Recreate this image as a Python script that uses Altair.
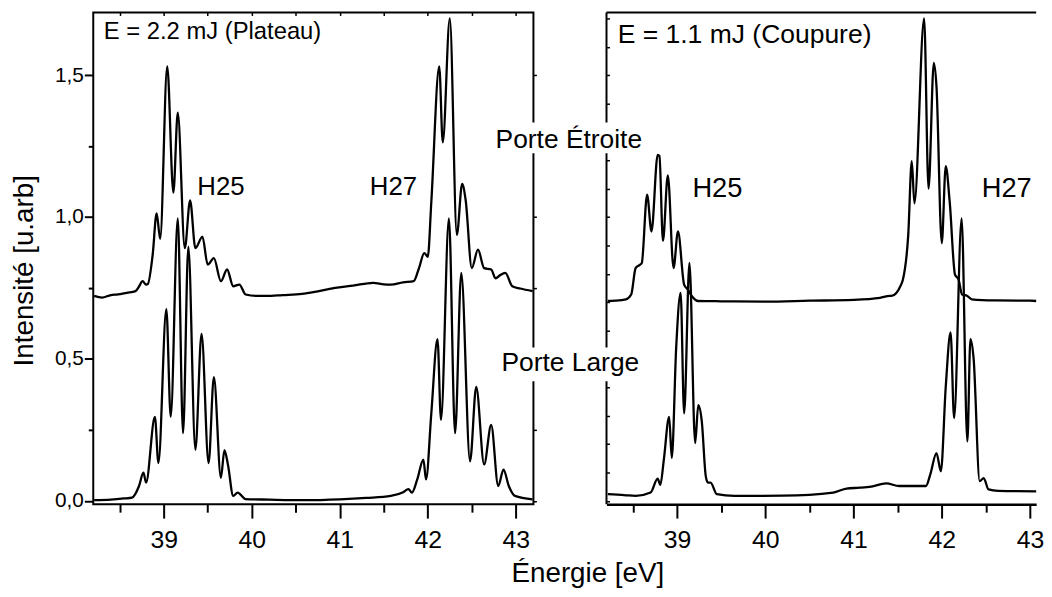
import altair as alt
import pandas as pd

FONT = "Liberation Sans"

# ---------------- data ----------------
# Left panel: E = 2.2 mJ (Plateau)
lu_x = [38.21, 38.30, 38.40, 38.48, 38.58, 38.68, 38.72, 38.76, 38.80, 38.82, 38.875, 38.92, 38.96,
        39.04, 39.11, 39.16, 39.24, 39.30, 39.36, 39.44, 39.50, 39.57, 39.65, 39.72, 39.79, 39.86,
        39.93, 40.05, 40.17, 40.35, 40.57, 40.75, 40.97, 41.15, 41.38, 41.50, 41.58, 41.72, 41.84,
        41.90, 41.96, 42.00, 42.04, 42.13, 42.17, 42.25, 42.33, 42.39, 42.43, 42.50, 42.57, 42.64,
        42.72, 42.77, 42.82, 42.88, 42.96, 43.05, 43.19]
lu_y = [0.722, 0.716, 0.725, 0.727, 0.733, 0.739, 0.755, 0.774, 0.762, 0.764, 0.867, 1.013, 0.923,
        1.531, 1.086, 1.368, 0.890, 1.059, 0.890, 0.931, 0.832, 0.855, 0.774, 0.815, 0.756, 0.762,
        0.727, 0.722, 0.722, 0.725, 0.729, 0.738, 0.751, 0.758, 0.768, 0.763, 0.762, 0.770, 0.774,
        0.820, 0.873, 0.860, 1.053, 1.531, 1.263, 1.700, 0.937, 1.117, 1.060, 0.820, 0.885, 0.820,
        0.815, 0.784, 0.795, 0.803, 0.756, 0.748, 0.739]

ll_x = [38.21, 38.40, 38.55, 38.64, 38.72, 38.77, 38.80, 38.90, 38.94, 39.03, 39.08, 39.16, 39.22,
        39.28, 39.36, 39.43, 39.51, 39.57, 39.65, 39.69, 39.73, 39.79, 39.84, 39.93, 40.20, 40.60,
        41.00, 41.30, 41.58, 41.72, 41.78, 41.82, 41.88, 41.95, 41.98, 42.04, 42.11, 42.15, 42.24,
        42.31, 42.38, 42.48, 42.55, 42.64, 42.72, 42.80, 42.86, 42.92, 42.99, 43.19]
ll_y = [0.002, 0.004, 0.008, 0.011, 0.052, 0.099, 0.064, 0.296, 0.133, 0.675, 0.296, 0.995, 0.238,
        0.896, 0.180, 0.588, 0.133, 0.436, 0.081, 0.178, 0.127, 0.017, 0.029, 0.006, 0.004, 0.002,
        0.005, 0.010, 0.017, 0.030, 0.041, 0.029, 0.075, 0.145, 0.075, 0.308, 0.570, 0.285, 0.995,
        0.238, 0.803, 0.139, 0.401, 0.128, 0.267, 0.052, 0.110, 0.052, 0.017, 0.005]

# Right panel: E = 1.1 mJ (Coupure)
ru_x = [38.215, 38.30, 38.42, 38.48, 38.53, 38.57, 38.60, 38.66, 38.71, 38.78, 38.80, 38.84, 38.895,
        38.96, 39.01, 39.08, 39.12, 39.17, 39.24, 39.50, 40.00, 40.50, 41.00, 41.30, 41.41, 41.43,
        41.54, 41.56, 41.62, 41.66, 41.69, 41.80, 41.85, 41.91, 41.94, 42.00, 42.045, 42.09, 42.15,
        42.19, 42.23, 42.29, 42.34, 42.60, 43.00, 43.07]
ru_y = [0.704, 0.705, 0.710, 0.727, 0.820, 0.830, 0.838, 1.079, 0.949, 1.219, 1.215, 0.916, 1.147,
        0.820, 0.949, 0.762, 0.745, 0.720, 0.704, 0.703, 0.702, 0.705, 0.708, 0.715, 0.722, 0.722,
        0.762, 0.780, 0.937, 1.197, 1.048, 1.700, 1.100, 1.543, 1.461, 0.908, 1.179, 1.053, 0.797,
        0.780, 0.727, 0.722, 0.710, 0.706, 0.705, 0.704]

rl_x = [38.215, 38.40, 38.53, 38.70, 38.78, 38.81, 38.85, 38.91, 38.94, 38.99, 39.04, 39.08, 39.14,
        39.205, 39.24, 39.28, 39.325, 39.35, 39.38, 39.45, 39.65, 40.20, 40.77, 40.92, 41.07, 41.20,
        41.37, 41.52, 41.82, 41.87, 41.94, 41.99, 42.045, 42.10, 42.14, 42.225, 42.29, 42.325, 42.36,
        42.43, 42.475, 42.53, 42.64, 43.07]
rl_y = [0.023, 0.020, 0.017, 0.029, 0.078, 0.056, 0.145, 0.296, 0.151, 0.541, 0.733, 0.308, 0.838,
        0.203, 0.337, 0.280, 0.087, 0.064, 0.064, 0.023, 0.017, 0.018, 0.029, 0.043, 0.046, 0.050,
        0.061, 0.052, 0.052, 0.093, 0.168, 0.104, 0.401, 0.593, 0.291, 0.995, 0.209, 0.570, 0.505,
        0.069, 0.080, 0.040, 0.035, 0.033]

x_ticks = [38.5, 39.0, 39.5, 40.0, 40.5, 41.0, 41.5, 42.0, 42.5, 43.0]
y_ticks_left = [0.0, 0.25, 0.5, 0.75, 1.0, 1.25, 1.5]
y_ticks_right = [0.0, 0.1, 0.2, 0.3, 0.4, 0.5, 0.6, 0.7, 0.8, 0.9, 1.0, 1.1, 1.2, 1.3, 1.4, 1.5, 1.6, 1.7]

X_MIN, X_MAX_L, X_MAX_R = 38.2, 43.2, 43.07
Y_MIN, Y_MAX = -0.0122, 1.7208
PX_PER_EV_R = 89.0


def series(xs, ys, name):
    return pd.DataFrame({"energie": xs, "intensite": ys, "porte": name})


left_df = pd.concat([series(lu_x, lu_y, "Porte Étroite"), series(ll_x, ll_y, "Porte Large")])
right_df = pd.concat([series(ru_x, ru_y, "Porte Étroite"), series(rl_x, rl_y, "Porte Large")])

y_scale = alt.Scale(domain=[Y_MIN, Y_MAX], nice=False, zero=False)
xl_scale = alt.Scale(domain=[X_MIN, X_MAX_L], nice=False, zero=False)
xr_scale = alt.Scale(domain=[X_MIN, X_MAX_R], nice=False, zero=False)

x_tick_size = {"condition": {"test": "datum.value % 1 === 0", "value": 14}, "value": 8}
x_label_expr = "datum.value % 1 === 0 ? format(datum.value, 'd') : ''"
y_major = "abs(datum.value * 2 - round(datum.value * 2)) < 0.001"


def bottom_axis(**kw):
    return alt.Axis(orient="bottom", values=x_ticks, tickSize=x_tick_size, tickWidth=2,
                    tickColor="black", labelExpr=x_label_expr, labelFont=FONT, labelFontSize=25,
                    labelColor="black", labelPadding=10, labelOverlap=False, labelFlush=False,
                    grid=False, **kw)


def text_layer(df, scale, size, align):
    return alt.Chart(df).mark_text(font=FONT, fontSize=size, align=align, baseline="alphabetic",
                                   color="black").encode(
        x=alt.X("energie:Q", scale=scale, axis=None),
        y=alt.Y("intensite:Q", scale=y_scale, axis=None),
        text="txt:N")


LW = 2.3

# ---------------- left panel ----------------
left_lines = alt.Chart(left_df).mark_line(color="black", strokeWidth=LW, interpolate="monotone").encode(
    x=alt.X("energie:Q", scale=xl_scale,
            axis=bottom_axis(domain=False, title="Énergie [eV]", titleFont=FONT, titleFontSize=28,
                             titleFontWeight="normal", titleColor="black", titleX=498.4, titleY=78,
                             titleAlign="center", titleBaseline="alphabetic")),
    y=alt.Y("intensite:Q", scale=y_scale,
            axis=alt.Axis(orient="left", values=y_ticks_left, domain=False, grid=False,
                          tickSize={"condition": {"test": y_major, "value": 9}, "value": 5},
                          tickWidth=2, tickColor="black",
                          labelExpr=f"{y_major} ? replace(format(datum.value, '.1f'), '.', ',') : ''",
                          labelFont=FONT, labelFontSize=21, labelColor="black", labelPadding=1,
                          labelOverlap=False, labelFlush=False,
                          title="Intensité [u.arb]", titleFont=FONT, titleFontSize=28,
                          titleFontWeight="normal", titleColor="black", titleAngle=270,
                          titleX=-61.3, titleY=260, titleAlign="center", titleBaseline="alphabetic")),
    detail="porte:N",
)

left_ticks = alt.Chart(left_df).mark_line(strokeOpacity=0).encode(
    x=alt.X("energie:Q", scale=xl_scale,
            axis=alt.Axis(orient="top", values=x_ticks, labels=False, domain=False, grid=False,
                          tickSize=3, tickWidth=1.5, tickColor="black", offset=-3, title=None)),
    y=alt.Y("intensite:Q", scale=y_scale,
            axis=alt.Axis(orient="right", values=y_ticks_left, labels=False, domain=False, grid=False,
                          tickSize=3, tickWidth=1.5, tickColor="black", title=None)),
    detail="porte:N",
)

left_h = text_layer(pd.DataFrame({"energie": [39.65, 41.61], "intensite": [1.078, 1.079],
                                  "txt": ["H25", "H27"]}), xl_scale, 26, "center")
left_title = text_layer(pd.DataFrame({"energie": [38.32], "intensite": [1.626],
                                      "txt": ["E = 2.2 mJ (Plateau)"]}), xl_scale, 24, "left")

left = alt.layer(left_lines, left_ticks, left_h, left_title).resolve_axis(
    x="independent", y="independent").properties(
    width=444, height=496, view=alt.ViewBackground(stroke="black", strokeWidth=2))

# ---------------- right panel ----------------
frame_df = pd.DataFrame({"x": [X_MIN, X_MIN], "x2": [X_MIN, X_MAX_R], "y": [Y_MIN, Y_MAX], "y2": [Y_MAX, Y_MAX]})
right_frame = alt.Chart(frame_df).mark_rule(color="black", strokeWidth=2).encode(
    x=alt.X("x:Q", scale=xr_scale, axis=None), x2="x2:Q",
    y=alt.Y("y:Q", scale=y_scale, axis=None), y2="y2:Q")

right_lines = alt.Chart(right_df).mark_line(color="black", strokeWidth=LW, interpolate="monotone").encode(
    x=alt.X("energie:Q", scale=xr_scale,
            axis=bottom_axis(domain=True, domainColor="black", domainWidth=2.5, title=None)),
    y=alt.Y("intensite:Q", scale=y_scale,
            axis=alt.Axis(orient="left", values=y_ticks_right, labels=False, domain=False, grid=False,
                          tickSize=3, tickWidth=1.5, tickColor="black", offset=-3, title=None)),
    detail="porte:N",
)

right_h = text_layer(pd.DataFrame({"energie": [39.457, 42.737], "intensite": [1.071, 1.071],
                                   "txt": ["H25", "H27"]}), xr_scale, 27.5, "center")
right_title = text_layer(pd.DataFrame({"energie": [38.327], "intensite": [1.615],
                                       "txt": ["E = 1.1 mJ (Coupure)"]}), xr_scale, 26.7, "left")

# series labels straddling the two panels, on a white box
gate_box_df = pd.DataFrame({"x": [36.93, 36.987], "x2": [38.616, 38.593],
                            "y": [1.333, 0.540], "y2": [1.2247, 0.421]})
gate_box = alt.Chart(gate_box_df).mark_rect(color="white").encode(
    x=alt.X("x:Q", scale=xr_scale, axis=None), x2="x2:Q",
    y=alt.Y("y:Q", scale=y_scale, axis=None), y2="y2:Q")
gate_text = text_layer(pd.DataFrame({"energie": [37.773, 37.79], "intensite": [1.244, 0.458],
                                     "txt": ["Porte Étroite", "Porte Large"]}), xr_scale, 26.6, "center")

right = alt.layer(right_lines, right_frame, right_h, right_title, gate_box, gate_text).resolve_axis(
    x="independent", y="independent").properties(
    width=round((X_MAX_R - X_MIN) * PX_PER_EV_R, 1), height=496, view=alt.ViewBackground(stroke=None))

chart = alt.hconcat(left, right, spacing=73.7, bounds="flush",
                    padding={"left": 1, "top": 0, "right": 0, "bottom": 0}).configure(background="white")

chart.save("out.html", embed_options={"renderer": "svg", "actions": False})
